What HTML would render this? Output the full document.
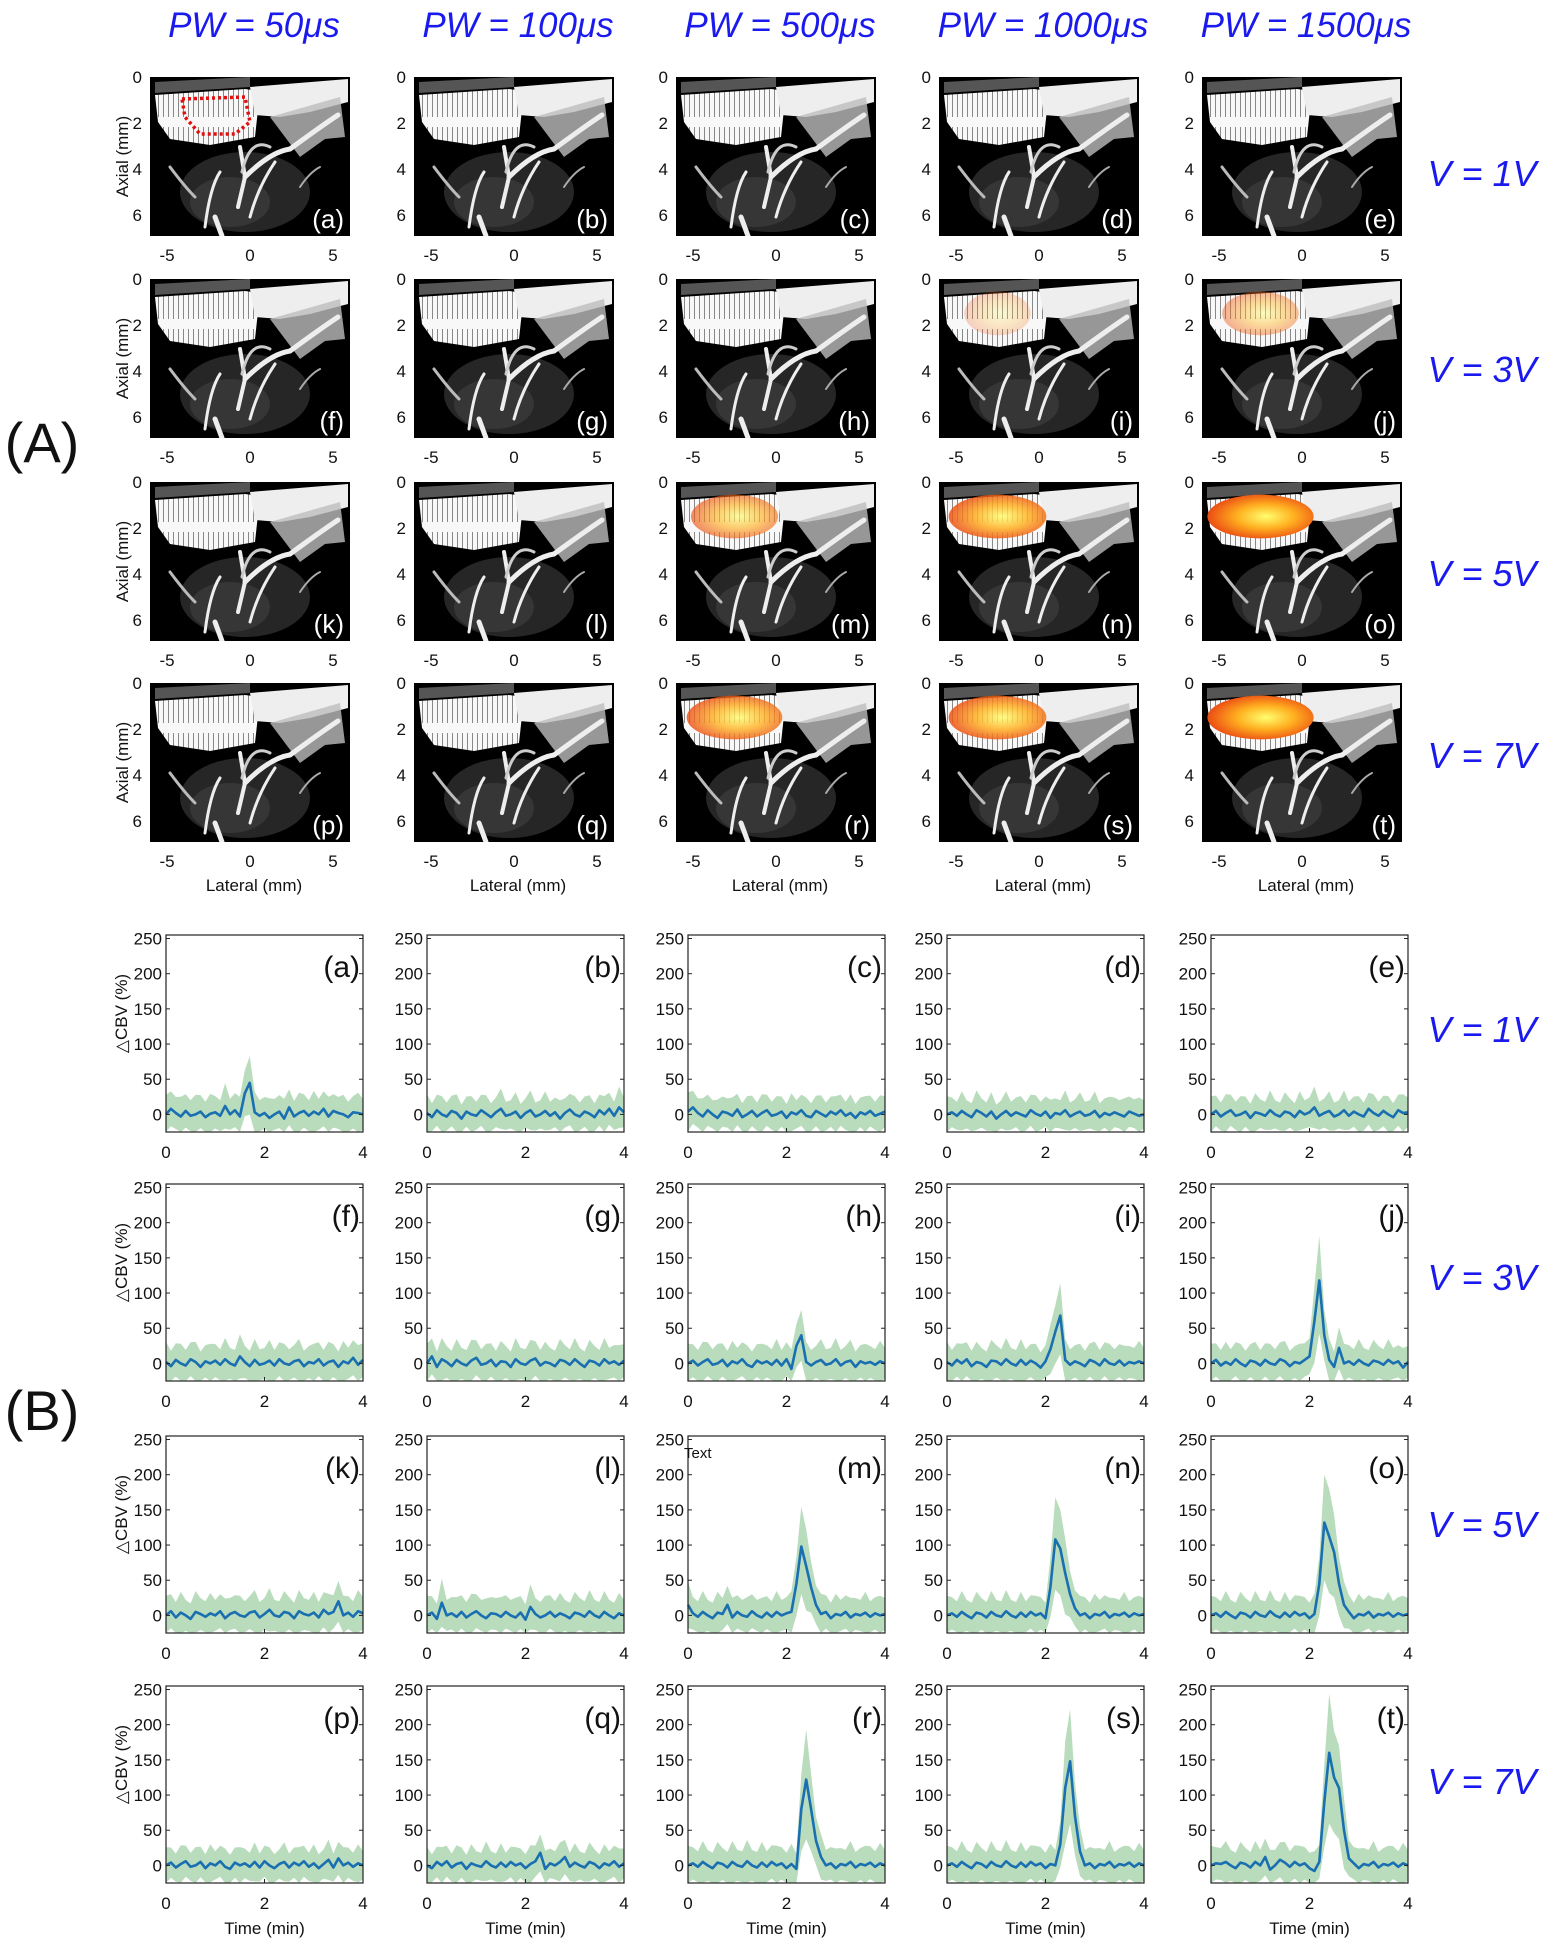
<!DOCTYPE html>
<html><head><meta charset="utf-8"><style>
html,body{margin:0;padding:0;background:#fff;}
svg{display:block;font-family:"Liberation Sans",sans-serif;}
</style></head><body>
<svg id="fig" width="1542" height="1950" viewBox="0 0 1542 1950" xmlns="http://www.w3.org/2000/svg">
<defs>
<pattern id="streak" width="5" height="40" patternUnits="userSpaceOnUse">
<rect width="5" height="40" fill="#f8f8f8"/><rect x="3" y="10" width="1" height="30" fill="#888"/>
</pattern>
<radialGradient id="heat" cx="0.55" cy="0.5" r="0.6">
<stop offset="0" stop-color="#ffff70"/><stop offset="0.45" stop-color="#ffb020"/><stop offset="1" stop-color="#e83a10"/>
</radialGradient>
<symbol id="us" viewBox="0 0 200 159">
<rect width="200" height="159" fill="#000"/>
<ellipse cx="95" cy="115" rx="65" ry="40" fill="#262626"/>
<ellipse cx="80" cy="125" rx="40" ry="25" fill="#363636"/>
<path d="M5 18 L95 12 L110 14 L105 60 L60 68 L20 62 L8 45 Z" fill="url(#streak)"/>
<path d="M100 10 L198 2 L198 25 L160 35 L130 40 L105 38 Z" fill="#eeeeee"/>
<path d="M120 40 L190 20 L195 60 L175 62 L150 80 Z" fill="#bdbdbd" opacity="0.8"/>
<path d="M5 5 L100 0 L100 10 L5 16 Z" fill="#555"/>
<g fill="none" stroke="#eee" stroke-linecap="round">
<path d="M140 72 Q170 50 188 38" stroke-width="5"/>
<path d="M95 100 Q120 75 140 72" stroke-width="5"/>
<path d="M100 140 Q108 110 125 85" stroke-width="3"/>
<path d="M90 70 L95 100 L88 130" stroke-width="4"/>
<path d="M70 95 Q60 110 55 150" stroke-width="3"/>
<path d="M20 90 Q35 110 45 120" stroke-width="3" stroke="#bbb"/>
<path d="M120 70 Q100 60 92 95" stroke-width="3" stroke="#ccc"/>
<path d="M65 140 L72 159" stroke-width="5"/>
<path d="M150 110 Q160 95 170 90" stroke-width="2" stroke="#aaa"/>
</g>
</symbol>
</defs>
<g id="root"></g>
</svg>
<script>
// ---- chart data ----
const colTitles = ["PW = 50\u03bcs","PW = 100\u03bcs","PW = 500\u03bcs","PW = 1000\u03bcs","PW = 1500\u03bcs"];
const rowTitles = ["V = 1V","V = 3V","V = 5V","V = 7V"];
const panelLetters = ["a","b","c","d","e","f","g","h","i","j","k","l","m","n","o","p","q","r","s","t"];
const activation = [0,0,0,0,0, 0,0,0,0.06,0.3, 0,0,0.55,0.8,1, 0,0,0.75,0.8,1];
const yTicks = [0,50,100,150,200,250];
const xTicks = [0,2,4];
const imgXTicks = [-5,0,5];
const imgYTicks = [0,2,4,6];
const sdBase = [22,20,20,20,20, 22,22,22,22,22, 22,22,22,22,22, 20,20,22,22,22];
const s_a=[0,8,2,-3,5,-2,0,4,-4,1,3,-2,12,0,6,-3,30,45,3,-2,2,-5,0,4,-6,10,-3,2,5,-2,4,0,8,-3,5,2,0,-4,3,2,0];
const s_b=[2,-4,6,0,-3,5,2,-6,4,0,-2,6,1,-4,3,8,-2,0,4,-5,2,6,-3,0,5,-2,3,-6,2,7,0,-3,4,1,-4,6,0,8,-2,10,3];
const s_c=[4,10,2,-3,6,0,-5,4,2,-2,7,-4,0,5,-3,2,6,-2,0,4,-5,3,0,6,-2,-4,5,1,-3,4,0,6,-2,2,-5,3,0,5,-2,1,4];
const s_d=[0,3,-2,5,0,-4,6,2,-3,4,-6,0,5,-2,3,0,-3,6,1,-2,4,-5,2,0,6,-3,1,4,-2,0,5,-4,2,-1,3,0,-3,4,1,-2,0];
const s_e=[0,5,-3,2,6,-2,0,4,-5,3,1,-2,6,0,-3,4,2,-4,5,0,3,10,-2,2,5,-3,0,6,-2,4,0,-3,8,2,-2,5,0,-4,6,2,3];
const s_f=[2,-4,5,0,-3,6,2,-5,3,0,4,-2,6,0,-3,10,2,-4,5,-2,0,4,-3,6,0,-2,3,5,-4,2,0,6,-3,2,4,-5,3,0,8,-2,5];
const s_g=[0,10,-5,6,2,-4,5,0,-3,4,8,-2,0,5,-4,3,2,-5,6,0,-2,4,7,-3,2,0,-4,5,3,-2,6,0,-5,4,2,-3,6,0,3,-2,4];
const s_h=[0,4,-3,2,6,-2,0,5,-4,3,0,6,-2,-5,4,0,3,-2,5,-3,6,-8,25,40,2,-3,2,5,-2,0,6,-3,2,4,-5,3,0,2,-2,3,0];
const s_i=[2,-3,5,0,6,-4,2,0,-5,4,3,-2,6,0,-3,5,-2,4,0,-6,3,20,45,68,5,-2,3,0,-4,5,2,-3,6,0,-2,4,-3,2,0,3,0];
const s_j=[0,5,-3,2,-2,6,0,-4,4,2,-3,5,0,-2,6,3,-4,2,0,5,10,60,118,40,5,-5,22,0,3,-2,5,0,-3,4,2,-2,5,0,3,-6,2];
const s_k=[0,6,-3,4,0,-5,5,2,-2,3,0,6,-4,2,5,0,-2,4,6,-3,2,8,0,-2,5,3,-4,6,2,0,4,-3,8,2,5,20,0,4,-2,6,3];
const s_l=[0,4,-5,18,0,3,-2,5,-3,2,6,0,-4,3,2,-2,5,0,-3,4,-6,12,2,-3,0,5,-2,3,0,-4,4,2,-2,6,0,-3,5,0,-4,3,0];
const s_m=[15,3,-2,5,0,-4,4,2,15,-3,5,0,-2,6,0,-3,4,-2,5,0,3,5,45,98,70,40,15,2,5,-4,2,0,5,-3,2,0,4,-2,3,0,2];
const s_n=[0,3,-2,5,0,-4,4,2,-3,5,0,-2,6,0,-3,4,-2,5,0,3,-4,40,108,95,60,30,10,0,3,-4,2,0,5,-3,2,0,4,-2,3,0,2];
const s_o=[0,3,-2,5,0,-4,4,2,-3,5,0,-2,6,0,-3,4,-2,5,0,3,-4,2,45,132,112,90,45,15,5,-4,2,0,5,-3,2,0,4,-2,3,0,2];
const s_p=[0,4,-3,2,6,-2,0,5,-4,3,0,6,-2,-5,4,0,3,-2,5,-3,6,0,-4,2,5,-3,4,0,6,-2,3,-4,2,8,-3,10,0,4,-2,3,0];
const s_q=[0,-4,5,0,6,-3,2,4,-5,3,0,-2,6,0,-3,4,-2,5,0,3,-4,2,6,18,-5,3,0,5,12,-2,4,0,-3,5,2,-4,3,0,6,-2,3];
const s_r=[0,3,-2,5,0,-4,4,2,-3,5,0,-2,6,0,-3,4,-2,5,0,3,-4,2,-5,80,122,80,35,12,0,3,-4,2,0,5,-3,2,0,4,-2,3,0];
const s_s=[0,3,-2,5,0,-4,4,2,-3,5,0,-2,6,0,-3,4,-2,5,0,3,-4,2,0,30,110,148,70,20,0,3,-4,2,0,5,-3,2,0,4,-2,3,0];
const s_t=[0,3,2,5,0,-4,4,2,-3,5,0,12,-6,0,8,4,-2,5,0,3,-4,-8,5,90,160,125,110,50,10,3,-4,2,0,5,-3,2,0,4,-2,3,0];
const series=[s_a,s_b,s_c,s_d,s_e,s_f,s_g,s_h,s_i,s_j,s_k,s_l,s_m,s_n,s_o,s_p,s_q,s_r,s_s,s_t];

const NS="http://www.w3.org/2000/svg";
const root=document.getElementById('root');
function mk(tag,attrs,parent){const e=document.createElementNS(NS,tag);for(const k in attrs)e.setAttribute(k,attrs[k]);(parent||root).appendChild(e);return e;}
function txt(s,attrs,parent){const e=mk('text',attrs,parent);e.textContent=s;return e;}

const imgX=[150,414,676,939,1202], imgY=[77,279,482,683], IW=200, IH=159;
const lnX=[166,427,688,947,1211], lnY=[935,1184,1436,1686], LW=197, LH=197;

colTitles.forEach((t,i)=>{
  const e=txt(t,{x:imgX[i]+IW/2+4,y:37,'text-anchor':'middle','font-size':35,'font-style':'italic',fill:'#1a1aee'});
  
  
});
const vYA=[186,382,586,768], vYB=[1042,1290,1537,1794];
rowTitles.forEach((t,i)=>{
  let e=txt(t,{x:1482,y:vYA[i],'text-anchor':'middle','font-size':36,'font-style':'italic',fill:'#1a1aee'});
  
  
  e=txt(t,{x:1482,y:vYB[i],'text-anchor':'middle','font-size':36,'font-style':'italic',fill:'#1a1aee'});
  
  
});
let A=txt('(A)',{x:42,y:462,'text-anchor':'middle','font-size':56,fill:'#111'});


let B=txt('(B)',{x:42,y:1430,'text-anchor':'middle','font-size':56,fill:'#111'});



const latX=(v,x0)=>x0+IW/2+v*16.6;
const axY=(v,y0)=>y0+v*23;
for(let r=0;r<4;r++)for(let c=0;c<5;c++){
  const k=r*5+c, x0=imgX[c], y0=imgY[r];
  const g=mk('g',{});
  
  
  mk('use',{href:'#us',x:x0,y:y0,width:IW,height:IH},g);
  const a=activation[k];
  if(a>0){
    const h=mk('ellipse',{cx:latX(-2.5,x0),cy:axY(1.5,y0),rx:16.6*3.2*(0.6+0.4*a),ry:23*0.95,fill:'url(#heat)',opacity:Math.min(1,0.2+0.8*a)},g);
    
    
  }
  if(k===0){
    const d=mk('path',{d:`M${x0+32} ${y0+22} L${x0+95} ${y0+20} L${x0+100} ${y0+45} L${x0+85} ${y0+57} L${x0+50} ${y0+57} L${x0+35} ${y0+40} Z`,fill:'none',stroke:'#e01010','stroke-width':3.5,'stroke-dasharray':'3 3'},g);
    
    
  }
  const pl=txt('('+panelLetters[k]+')',{x:x0+IW-6,y:y0+IH-8,'text-anchor':'end','font-size':26,fill:'#fff'},g);
  
  
  imgYTicks.forEach(v=>{
    const t=txt(String(v),{x:x0-8,y:axY(v,y0)+6,'text-anchor':'end','font-size':17,fill:'#111'},g);
    
    
  });
  imgXTicks.forEach(v=>{
    const t=txt(String(v),{x:latX(v,x0),y:y0+IH+25,'text-anchor':'middle','font-size':17,fill:'#111'},g);
    
    
  });
  if(c===0){
    const t=txt('Axial (mm)',{x:0,y:0,'text-anchor':'middle','font-size':17,fill:'#111',transform:`translate(128 ${y0+IH/2}) rotate(-90)`},g);
    
    
  }
  if(r===3){
    const t=txt('Lateral (mm)',{x:x0+IW/2+4,y:y0+IH+49,'text-anchor':'middle','font-size':17,fill:'#111'},g);
    
    
  }
}

const yMin=-25, yMax=255;
for(let r=0;r<4;r++)for(let c=0;c<5;c++){
  const k=r*5+c, x0=lnX[c], y0=lnY[r], data=series[k];
  const sx=t=>x0+t/4*LW;
  const sy=v=>y0+(yMax-v)/(yMax-yMin)*LH;
  const g=mk('g',{});
  
  
  const n=data.length;
  const tAt=i=>i*4/(n-1);
  let up=[],lo=[];
  for(let i=0;i<n;i++){const sd=sdBase[k]+0.35*Math.max(data[i],0)+(i%3===0?6:0);
    up.push(sx(tAt(i)).toFixed(1)+','+sy(Math.min(data[i]+sd,yMax)).toFixed(1));
    lo.push(sx(tAt(i)).toFixed(1)+','+sy(Math.max(data[i]-sd*(data[i]>40?1.2:1),yMin)).toFixed(1));}
  const band=mk('polygon',{points:up.concat(lo.reverse()).join(' '),fill:'#a8d3ad',opacity:0.8},g);
  
  
  const pts=data.map((v,i)=>sx(tAt(i)).toFixed(1)+','+sy(v).toFixed(1)).join(' ');
  const ln=mk('polyline',{points:pts,fill:'none',stroke:'#1a6fb0','stroke-width':2.6,'stroke-linejoin':'round'},g);
  
  
  const fr=mk('rect',{x:x0,y:y0,width:LW,height:LH,fill:'none',stroke:'#222','stroke-width':1.2},g);
  
  
  yTicks.forEach(v=>{
    mk('line',{x1:x0,x2:x0+4,y1:sy(v),y2:sy(v),stroke:'#222'},g);
    mk('line',{x1:x0+LW,x2:x0+LW-4,y1:sy(v),y2:sy(v),stroke:'#222'},g);
    const t=txt(String(v),{x:x0-4,y:sy(v)+6,'text-anchor':'end','font-size':17,fill:'#111'},g);
    
    
  });
  xTicks.forEach(v=>{
    mk('line',{x1:sx(v),x2:sx(v),y1:y0+LH,y2:y0+LH-4,stroke:'#222'},g);
    const t=txt(String(v),{x:sx(v),y:y0+LH+26,'text-anchor':'middle','font-size':17,fill:'#111'},g);
    
    
  });
  const pl=txt('('+panelLetters[k]+')',{x:x0+LW-3,y:y0+42,'text-anchor':'end','font-size':30,fill:'#111'},g);
  
  
  if(c===0){
    const t=txt('\u25B3CBV (%)',{x:0,y:0,'text-anchor':'middle','font-size':17,fill:'#111',transform:`translate(127 ${y0+LH/2-20}) rotate(-90)`},g);
    
    
  }
  if(r===3){
    const t=txt('Time (min)',{x:x0+LW/2,y:y0+LH+51,'text-anchor':'middle','font-size':17,fill:'#111'},g);
    
    
  }
  if(k===12){
    const t=txt('Text',{x:x0-4,y:y0+22,'font-size':15,fill:'#111'},g);
    
    
  }
}
</script>
</body></html>
